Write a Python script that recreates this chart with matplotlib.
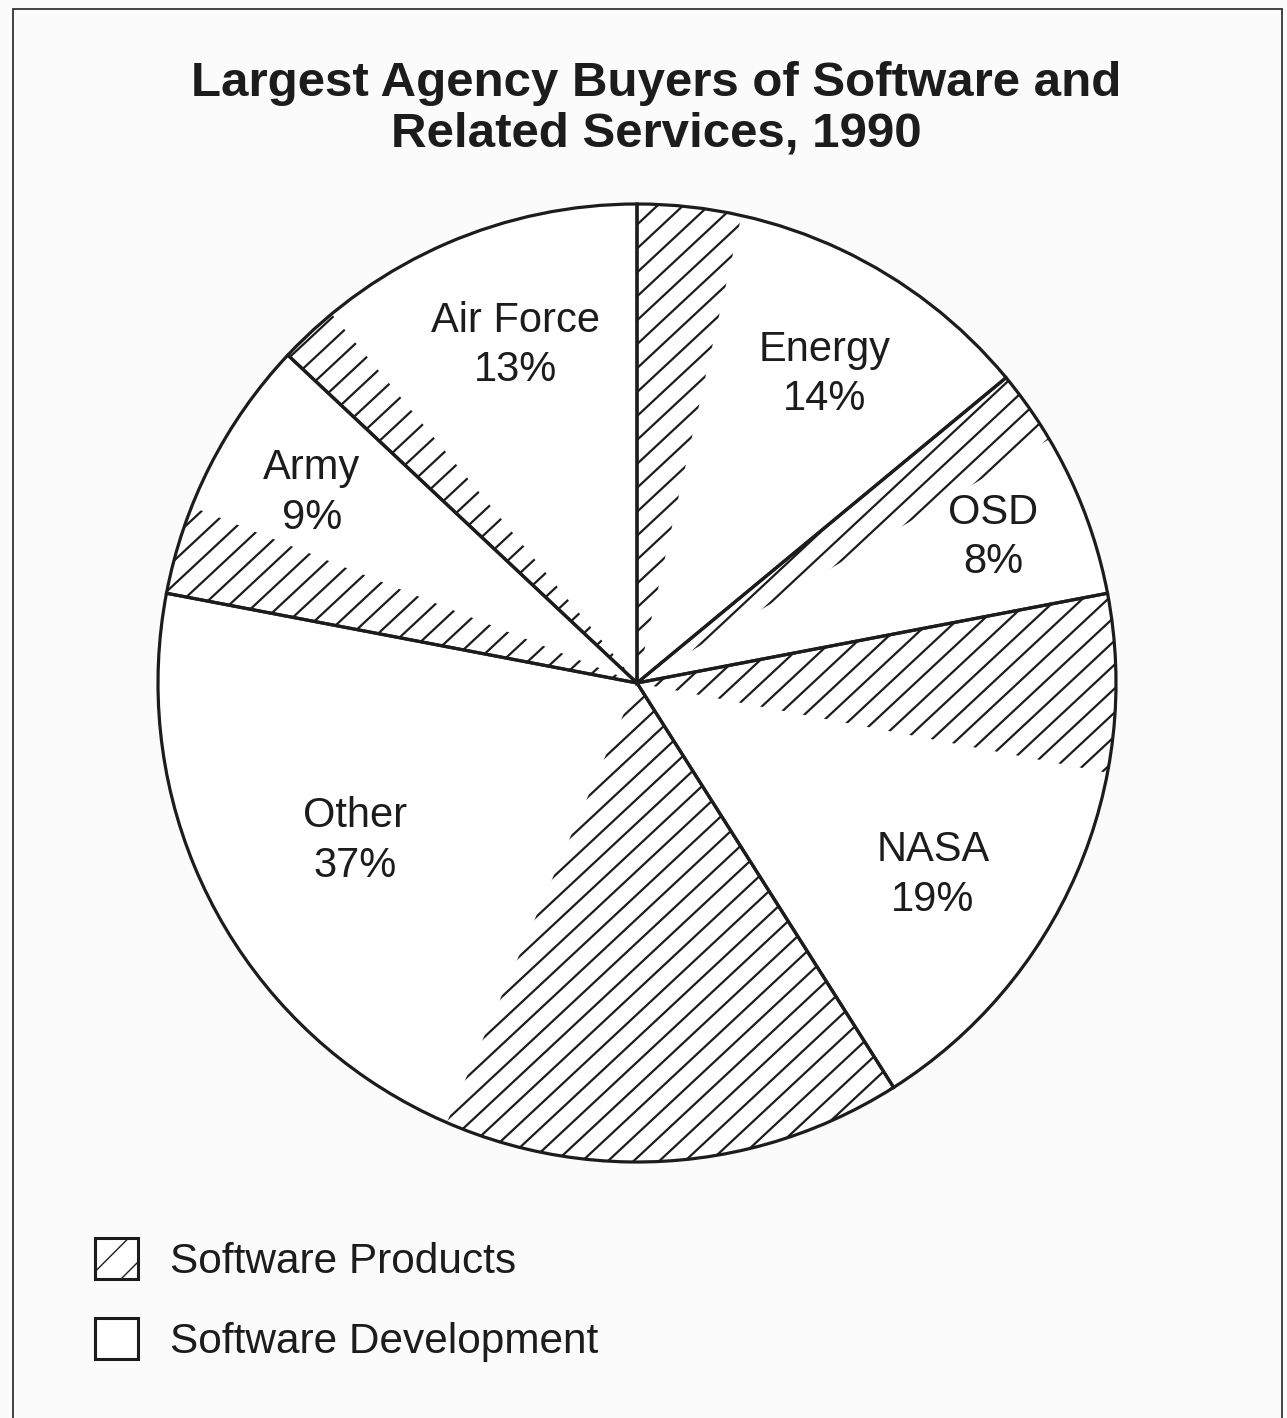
import numpy as np
import matplotlib.pyplot as plt
from matplotlib.collections import LineCollection
from matplotlib.patches import Patch, Rectangle

plt.rcParams["font.family"] = ["Liberation Sans", "DejaVu Sans"]

# ---------------------------------------------------------------------------
# Data — shares of 1990 spending (percent)
# Order is clockwise from 12 o'clock
# ---------------------------------------------------------------------------
AGENCIES = ["Energy", "OSD", "NASA", "Other", "Army", "Air Force"]
SHARES = [14, 8, 19, 37, 9, 13]
PRODUCTS = [3.5, 2.5, 6.0, 15.5, 3.0, 2.0]        # hatched part of each slice
DEVELOPMENT = [10.5, 5.5, 13.0, 21.5, 6.0, 11.0]  # white part of each slice

TITLE = ["Largest Agency Buyers of Software and", "Related Services, 1990"]
LEGEND_LABELS = ["Software Products", "Software Development"]

# label placement: distance (fraction of radius) and angle (deg), per agency
LABEL_R = [0.76, 0.805, 0.733, 0.672, 0.789, 0.754]
LABEL_ANG = [58.9, 22.6, -32.6, 208.8, 149.3, 109.7]

INK = "#1c1c1c"
W, H, DPI = 1287, 1418, 100
CX, CY, R = 637, 683, 479  # pie centre / radius in pixels (from top)


def hatch_lines(angle_deg: float, step: float) -> np.ndarray:
    """Parallel segments covering the unit disc, used as a hatch pattern."""
    a = np.deg2rad(angle_deg)
    d = np.array([np.cos(a), np.sin(a)])
    n = np.array([-np.sin(a), np.cos(a)])
    offs = np.arange(-1.2, 1.2, step)
    segs = [[o * n - 1.3 * d, o * n + 1.3 * d] for o in offs]
    return np.array(segs)


fig = plt.figure(figsize=(W / DPI, H / DPI), dpi=DPI, facecolor="#fbfbfb")
ax = fig.add_axes([(CX - R) / W, (H - CY - R) / H, 2 * R / W, 2 * R / H])

# sub-slices: products then development for every agency
values = []
for p, d in zip(PRODUCTS, DEVELOPMENT):
    values += [p, d]

wedges, _ = ax.pie(values, startangle=90, counterclock=False, radius=1,
                   colors=["white"] * len(values),
                   wedgeprops=dict(linewidth=0))

segs = hatch_lines(43, 17.5 / R)
for w in wedges[0::2]:
    lc = LineCollection(segs, colors=INK, linewidths=1.6)
    ax.add_collection(lc)
    lc.set_clip_path(w)

# agency outlines on top
ax.pie(SHARES, startangle=90, counterclock=False, radius=1,
       colors=["none"] * len(SHARES),
       wedgeprops=dict(edgecolor=INK, linewidth=2.3, fill=False))

for i, name in enumerate(AGENCIES):
    a = np.deg2rad(LABEL_ANG[i])
    ax.text(LABEL_R[i] * np.cos(a), LABEL_R[i] * np.sin(a) - 0.006,
            f"{name}\n{SHARES[i]}%", ha="center", va="center",
            fontsize=30, color=INK, linespacing=1.3)

ax.set_xlim(-1, 1)
ax.set_ylim(-1, 1)
ax.axis("off")

# title
fig.text(656 / W, 1 - 83 / H, TITLE[0], ha="center", va="center",
         fontsize=35.5, fontweight="bold", color=INK)
fig.text(656 / W, 1 - 134 / H, TITLE[1], ha="center", va="center",
         fontsize=35.5, fontweight="bold", color=INK)

# legend
handles = [Patch(facecolor="white", edgecolor=INK, hatch="/", linewidth=2.2),
           Patch(facecolor="white", edgecolor=INK, linewidth=2.2)]
fig.legend(handles, LEGEND_LABELS, loc="upper left",
           bbox_to_anchor=(95 / W, 1 - 1238 / H), frameon=False,
           fontsize=30.5, handlelength=1.02, handleheight=1.12,
           handletextpad=0.74, labelspacing=0.84, borderpad=0,
           borderaxespad=0, labelcolor=INK)

# page frame
fig.patches.append(Rectangle((13 / W, -0.01), (1282 - 13) / W, 1.01 - 9 / H,
                             transform=fig.transFigure, fill=False,
                             edgecolor="#333333", linewidth=1.3))

fig.savefig("out.png", dpi=DPI, facecolor=fig.get_facecolor())
